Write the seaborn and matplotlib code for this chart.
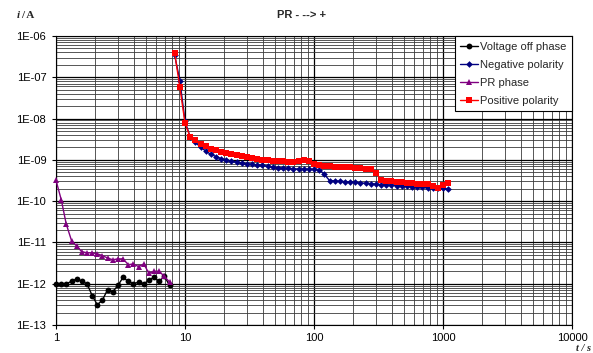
import numpy as np
import pandas as pd
import matplotlib
matplotlib.use("Agg")
import matplotlib.pyplot as plt
import seaborn as sns
from matplotlib.ticker import LogLocator, NullFormatter

# ---------------- data ----------------
t_phase1 = [1.0, 1.1, 1.2, 1.32, 1.45, 1.58, 1.74, 1.91, 2.09, 2.29, 2.51, 2.75,
            3.02, 3.31, 3.63, 3.98, 4.37, 4.79, 5.25, 5.75, 6.31, 6.92, 7.59]
voltage_off = [1.0e-12, 1.0e-12, 1.0e-12, 1.14e-12, 1.32e-12, 1.14e-12, 1.0e-12,
               0.51e-12, 0.31e-12, 0.40e-12, 0.72e-12, 0.63e-12, 0.91e-12, 1.42e-12,
               1.14e-12, 1.0e-12, 1.09e-12, 1.0e-12, 1.2e-12, 1.44e-12, 1.14e-12,
               1.52e-12, 0.91e-12]
pr_phase = [3.2e-10, 1.06e-10, 2.8e-11, 1.1e-11, 8.1e-12, 6.0e-12, 5.6e-12, 5.6e-12,
            5.3e-12, 4.8e-12, 4.2e-12, 3.8e-12, 4.0e-12, 4.0e-12, 2.9e-12, 3.0e-12,
            2.6e-12, 3.0e-12, 1.8e-12, 2.0e-12, 2.0e-12, 1.5e-12, 1.1e-12]

t_phase2 = [8.32, 9.12, 10.0, 10.96, 12.0, 13.2, 14.5, 15.8, 17.4, 19.1, 20.9, 22.9,
            25.1, 27.5, 30.2, 33.1, 36.3, 39.8, 43.7, 47.9, 52.5, 57.5, 63.1, 69.2,
            75.9, 83.2, 91.2, 100, 110, 120, 132, 145, 158, 174, 191, 209, 229, 251,
            275, 302, 331, 363, 398, 437, 479, 525, 575, 631, 692, 759, 832, 912,
            1000, 1096]
negative = [3.4e-7, 8.3e-8, 8.7e-9, 3.6e-9, 2.64e-9, 2.05e-9, 1.63e-9, 1.37e-9,
            1.2e-9, 1.07e-9, 1.01e-9, 0.93e-9, 0.885e-9, 0.84e-9, 0.80e-9, 0.78e-9,
            0.75e-9, 0.74e-9, 0.70e-9, 0.66e-9, 0.65e-9, 0.63e-9, 0.62e-9, 0.61e-9,
            0.60e-9, 0.60e-9, 0.59e-9, 0.59e-9, 0.58e-9, 0.45e-9, 3.15e-10,
            3.09e-10, 3.03e-10, 2.98e-10, 2.92e-10, 2.87e-10, 2.76e-10, 2.71e-10,
            2.67e-10, 2.57e-10, 2.52e-10, 2.48e-10, 2.43e-10, 2.39e-10, 2.34e-10,
            2.30e-10, 2.26e-10, 2.22e-10, 2.18e-10, 2.14e-10, 2.10e-10, 2.06e-10,
            2.03e-10, 1.98e-10]
positive = [3.8e-7, 5.8e-8, 7.8e-9, 3.6e-9, 2.95e-9, 2.43e-9, 2.11e-9, 1.86e-9,
            1.72e-9, 1.58e-9, 1.49e-9, 1.38e-9, 1.31e-9, 1.23e-9, 1.16e-9, 1.09e-9,
            1.06e-9, 1.01e-9, 0.97e-9, 0.95e-9, 0.95e-9, 0.92e-9, 0.90e-9, 0.90e-9,
            0.92e-9, 0.97e-9, 0.95e-9, 0.78e-9, 0.74e-9, 0.72e-9, 0.70e-9, 0.68e-9,
            0.68e-9, 0.66e-9, 0.66e-9, 0.64e-9, 0.62e-9, 0.61e-9, 0.60e-9, 0.49e-9,
            3.2e-10, 3.12e-10, 3.03e-10, 2.92e-10, 2.84e-10, 2.75e-10, 2.71e-10,
            2.67e-10, 2.64e-10, 2.54e-10, 2.34e-10, 2.14e-10, 2.47e-10, 2.79e-10]

x_ticks = [1, 10, 100, 1000, 10000]
x_tick_labels = ["1", "10", "100", "1000", "10000"]
y_ticks = [1e-13, 1e-12, 1e-11, 1e-10, 1e-9, 1e-8, 1e-7, 1e-6]
y_tick_labels = ["1E-13", "1E-12", "1E-11", "1E-10", "1E-09", "1E-08", "1E-07", "1E-06"]

# ---------------- style ----------------
sns.set_style("white")
plt.rcParams['font.family'] = ['Liberation Sans', 'DejaVu Sans']

W, H = 593, 353
fig = plt.figure(figsize=(W / 100, H / 100), dpi=100)
L, R, T, B = 56, 572, 36, 325
ax = fig.add_axes([L / W, 1 - B / H, (R - L) / W, (B - T) / H])

series = [
    ("Voltage off phase", t_phase1, voltage_off, "black", "o", 4.2),
    ("Negative polarity", t_phase2, negative, "#000080", "D", 3.4),
    ("PR phase", t_phase1, pr_phase, "#800080", "^", 4.4),
    ("Positive polarity", t_phase2, positive, "#FF0000", "s", 4.6),
]
for z, (name, tx, iy, col, mk, ms) in enumerate(series):
    df = pd.DataFrame({"t": tx, "i": iy})
    sns.lineplot(data=df, x="t", y="i", ax=ax, color=col, marker=mk,
                 markersize=ms, markeredgewidth=0, linewidth=1.0, label=name,
                 estimator=None, sort=False, clip_on=False, zorder=3 + z)

ax.set_xscale("log")
ax.set_yscale("log")
ax.set_xlim(1, 10000)
ax.set_ylim(1e-13, 1e-6)
ax.set_xticks(x_ticks)
ax.set_xticklabels(x_tick_labels)
ax.set_yticks(y_ticks)
ax.set_yticklabels(y_tick_labels)
ax.xaxis.set_minor_locator(LogLocator(base=10, subs=np.arange(2, 10)))
ax.yaxis.set_minor_locator(LogLocator(base=10, subs=np.arange(2, 10)))
ax.xaxis.set_minor_formatter(NullFormatter())
ax.yaxis.set_minor_formatter(NullFormatter())
ax.set_xlabel("")
ax.set_ylabel("")

ax.tick_params(axis="both", which="major", direction="out", length=3, width=0.8,
               labelsize=8, colors="black", left=True, bottom=True)
ax.tick_params(axis="x", which="major", pad=3)
ax.tick_params(axis="y", which="major", pad=4)
ax.tick_params(axis="both", which="minor", length=0)
ax.grid(which="major", color="black", linewidth=0.9)
ax.grid(which="minor", color="#3a3a3a", linewidth=0.6)
ax.set_axisbelow(True)
for s in ax.spines.values():
    s.set_color("black")
    s.set_linewidth(0.8)

leg = ax.legend(loc="upper right", bbox_to_anchor=(1, 1), borderaxespad=0,
                fontsize=8, frameon=True, fancybox=False, edgecolor="black",
                framealpha=1, labelspacing=0.72, handlelength=1.6,
                handletextpad=0.2, borderpad=0.5)
leg.get_frame().set_linewidth(0.8)
leg.set_zorder(10)

fig.text(302 / W, 1 - 15.5 / H, "PR - --> +", ha="center", va="center",
         fontsize=8, fontweight="bold")
fig.text(17 / W, 1 - 15.5 / H, "i", ha="left", va="center", fontsize=8,
         fontweight="bold", fontstyle="italic", family="Liberation Serif")
fig.text(21 / W, 1 - 15.5 / H, "/ A", ha="left", va="center", fontsize=8,
         fontweight="bold", family="Liberation Serif")
fig.text(583 / W, 1 - 351 / H, "t / s", ha="center", va="baseline", fontsize=7.5,
         fontweight="bold", fontstyle="italic", family="Liberation Serif")

fig.savefig("out.png", dpi=100)
